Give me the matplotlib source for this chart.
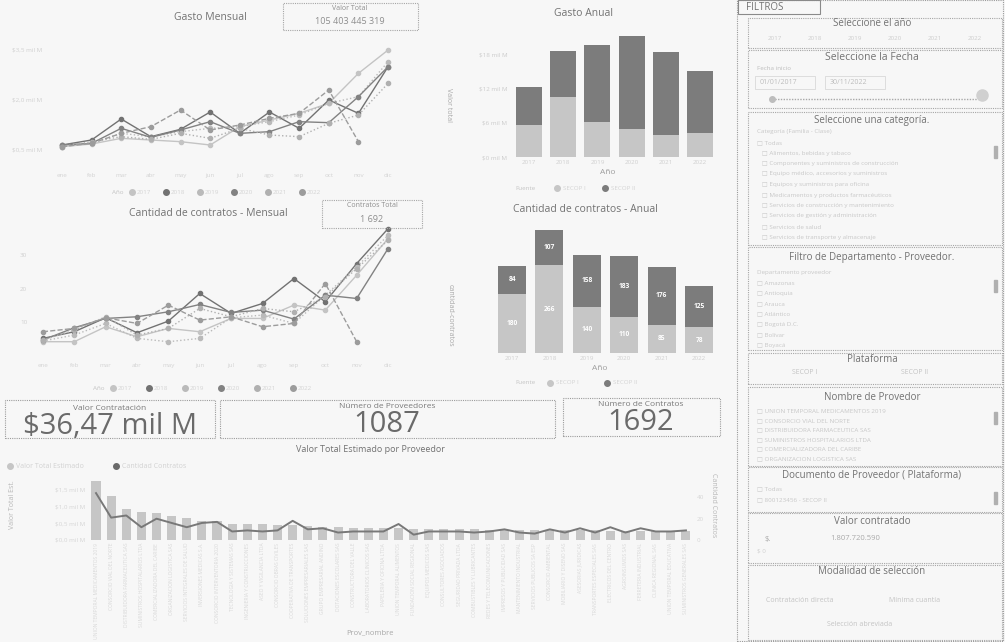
import matplotlib.pyplot as plt
import matplotlib.patches as patches
from matplotlib.lines import Line2D

W, H = 1005, 642
plt.rcParams['font.family'] = ['Open Sans', 'DejaVu Sans']

bg = '#f7f7f7'
txt = '#727272'
faint = '#c4c4c4'

# ---- data ----
years = ['2017', '2018', '2019', '2020', '2021', '2022']
months = list(range(1, 13))
month_labels = ['ene', 'feb', 'mar', 'abr', 'may', 'jun', 'jul', 'ago', 'sep', 'oct', 'nov', 'dic']

# Gasto mensual (mil M)
gasto_2017 = [0.60, 0.68, 0.85, 0.80, 0.75, 0.65, 1.20, 1.40, 1.60, 1.90, 2.80, 3.50]
gasto_2018 = [0.65, 0.80, 1.43, 0.90, 1.12, 1.64, 1.00, 1.64, 1.15, 2.00, 1.60, 3.00]
gasto_2019 = [0.65, 0.70, 1.00, 0.90, 1.05, 1.15, 1.20, 1.35, 1.55, 1.90, 2.10, 3.15]
gasto_2020 = [0.65, 0.70, 1.15, 0.88, 1.10, 1.35, 1.00, 1.05, 1.35, 1.32, 2.10, 3.00]
gasto_2021 = [0.60, 0.75, 0.90, 0.82, 1.00, 0.85, 1.15, 0.95, 0.90, 1.30, 1.55, 2.50]
gasto_2022 = [0.60, 0.70, 1.00, 1.20, 1.70, 1.10, 1.25, 1.45, 1.60, 2.30, 0.75, None]

# Cantidad de contratos mensual
contratos_2017 = [4.0, 4.0, 8.5, 5.5, 8.0, 7.0, 11.0, 11.0, 15.0, 13.5, 24.0, 35.0]
contratos_2018 = [5.0, 7.0, 11.2, 6.7, 10.2, 18.5, 12.5, 15.5, 23.0, 16.0, 27.5, 38.0]
contratos_2019 = [4.2, 6.0, 9.5, 5.0, 4.0, 5.0, 11.2, 12.0, 9.5, 18.0, 26.5, 36.0]
contratos_2020 = [4.5, 8.2, 11.0, 11.5, 13.0, 15.2, 12.8, 13.5, 10.8, 18.0, 17.0, 32.0]
contratos_2021 = [4.5, 7.5, 11.5, 6.0, 8.0, 14.0, 11.5, 14.0, 13.0, 17.5, 26.0, 34.5]
contratos_2022 = [7.0, 8.0, 11.2, 9.5, 15.0, 10.5, 11.5, 8.5, 9.5, 21.5, 4.0, None]

# Gasto anual por fuente (mil M)
fuentes = ['SECOP I', 'SECOP II']
gasto_anual_secop1 = [5.6, 10.6, 6.2, 5.0, 3.9, 4.2]
gasto_anual_secop2 = [6.7, 8.1, 13.5, 16.2, 14.6, 10.9]
gasto_ticks = [0, 6, 12, 18]

# Contratos anuales por fuente
contratos_anual_secop1 = [180, 266, 140, 110, 85, 78]
contratos_anual_secop2 = [84, 107, 158, 183, 176, 125]

# Valor total estimado por proveedor
proveedores = [
    'UNION TEMPORAL MEDICAMENTOS 2019', 'CONSORCIO VIAL DEL NORTE', 'DISTRIBUIDORA FARMACEUTICA SAS',
    'SUMINISTROS HOSPITALARIOS LTDA', 'COMERCIALIZADORA DEL CARIBE', 'ORGANIZACION LOGISTICA SAS',
    'SERVICIOS INTEGRALES DE SALUD', 'INVERSIONES MEDICAS S.A.', 'CONSORCIO INTERVENTORIA 2020',
    'TECNOLOGIA Y SISTEMAS SAS', 'INGENIERIA Y CONSTRUCCIONES', 'ASEO Y VIGILANCIA LTDA',
    'CONSORCIO OBRAS CIVILES', 'COOPERATIVA DE TRANSPORTES', 'SOLUCIONES EMPRESARIALES SAS',
    'GRUPO EMPRESARIAL ANDINO', 'DOTACIONES ESCOLARES SAS', 'CONSTRUCTORA DEL VALLE',
    'LABORATORIOS CLINICOS SAS', 'PAPELERIA Y OFICINA LTDA', 'UNION TEMPORAL ALIMENTOS',
    'FUNDACION SOCIAL REGIONAL', 'EQUIPOS MEDICOS SAS', 'CONSULTORES ASOCIADOS',
    'SEGURIDAD PRIVADA LTDA', 'COMBUSTIBLES Y LUBRICANTES', 'REDES Y TELECOMUNICACIONES',
    'IMPRESOS Y PUBLICIDAD SAS', 'MANTENIMIENTO INDUSTRIAL', 'SERVICIOS PUBLICOS SA ESP',
    'CONSORCIO AMBIENTAL', 'MOBILIARIO Y DISENO SAS', 'ASESORIAS JURIDICAS',
    'TRANSPORTES ESPECIALES SAS', 'ELECTRICOS DEL CENTRO', 'AGROINSUMOS SAS',
    'FERRETERIA INDUSTRIAL', 'CLINICA REGIONAL SAS', 'UNION TEMPORAL EDUCATIVA',
    'SUMINISTROS GENERALES SAS']
valor_estimado = [1.77, 1.32, 0.92, 0.85, 0.82, 0.72, 0.65, 0.57, 0.57, 0.47,
                  0.47, 0.47, 0.45, 0.45, 0.42, 0.40, 0.38, 0.37, 0.36, 0.35,
                  0.35, 0.34, 0.33, 0.33, 0.32, 0.32, 0.31, 0.31, 0.30, 0.30,
                  0.30, 0.29, 0.29, 0.29, 0.28, 0.28, 0.28, 0.27, 0.27, 0.27]
cantidad_contratos = [44, 21, 23, 12, 20, 16, 12, 16, 17, 8,
                      9, 8, 9, 18, 10, 11, 7, 8, 8, 8,
                      15, 5, 8, 8, 8, 7, 8, 10, 7, 6,
                      10, 7, 11, 7, 12, 7, 11, 8, 8, 9]

year_colors = ['#c4c4c4', '#727272', '#bababa', '#828282', '#b0b0b0', '#9c9c9c']
year_styles = ['-', '-', ':', '-', ':', '--']
light_bar = '#c6c6c6'
dark_bar = '#7c7c7c'

fig = plt.figure(figsize=(W / 100, H / 100), dpi=100, facecolor=bg)


def add_ax(x0, y0, x1, y1):
    ax = fig.add_axes([x0 / W, 1 - y1 / H, (x1 - x0) / W, (y1 - y0) / H])
    ax.set_facecolor('none')
    for s in ax.spines.values():
        s.set_visible(False)
    ax.tick_params(length=0, labelsize=4.5, colors=faint, pad=2)
    return ax


def label(x, y, s, size=7, color=txt, ha='center', va='center', **kw):
    fig.text(x / W, 1 - y / H, s, fontsize=size, color=color, ha=ha, va=va, **kw)


def box(x0, y0, x1, y1, color='#a6a6a6', ls=(0, (1, 1)), lw=0.8):
    fig.add_artist(patches.Rectangle((x0 / W, 1 - y1 / H), (x1 - x0) / W, (y1 - y0) / H,
                                     transform=fig.transFigure, fill=False,
                                     edgecolor=color, linestyle=ls, linewidth=lw))


def dot(x, y, color, size=4):
    fig.add_artist(Line2D([x / W], [1 - y / H], marker='o', markersize=size, color=color,
                          linestyle='none', transform=fig.transFigure))


def line_chart(rect, series, xlim, ylim, yticks, yticklabels):
    ax = add_ax(*rect)
    for vals, c, ls in zip(series, year_colors, year_styles):
        v = [float('nan') if a is None else a for a in vals]
        ax.plot(months, v, color=c, linestyle=ls, linewidth=1.0, marker='o', markersize=3.0)
    ax.set_xlim(xlim)
    ax.set_ylim(ylim)
    ax.set_xticks(months)
    ax.set_xticklabels(month_labels, color='#d4d4d4')
    ax.set_yticks(yticks)
    ax.set_yticklabels(yticklabels, color='#d0d0d0')
    return ax


def year_legend(x0, y, step):
    label(x0 - 14, y, 'Año', size=4.5, color=faint)
    for i, yr in enumerate(years):
        dot(x0 + i * step, y, year_colors[i], 4)
        label(x0 + i * step + 5, y, yr, size=4.5, color='#d4d4d4', ha='left')


# ---- Gasto Mensual ----
label(210, 17, 'Gasto Mensual', size=7.5)
box(283, 3, 418, 30)
label(350, 9, 'Valor Total', size=5, color='#8e8e8e')
label(350, 21, '105 403 445 319', size=6.5, color='#8e8e8e')
line_chart((45, 40, 405, 170),
           [gasto_2017, gasto_2018, gasto_2019, gasto_2020, gasto_2021, gasto_2022],
           (0.43, 12.57), (-0.1, 3.8), [0.5, 2.0, 3.5],
           ['$0,5 mil M', '$2,0 mil M', '$3,5 mil M'])
label(448, 105, 'Valor total', size=5, color='#a8a8a8', rotation=270)
year_legend(132, 192, 34)

# ---- Cantidad de contratos Mensual ----
label(208, 214, 'Cantidad de contratos - Mensual', size=7.5)
box(322, 200, 422, 228)
label(372, 206, 'Contratos Total', size=5, color='#8e8e8e')
label(372, 219, '1 692', size=6.5, color='#8e8e8e')
line_chart((30, 222, 405, 360),
           [contratos_2017, contratos_2018, contratos_2019, contratos_2020, contratos_2021,
            contratos_2022],
           (0.59, 12.54), (-1.5, 40), [10, 20, 30], ['10', '20', '30'])
label(450, 315, 'cantidad-contratos', size=5, color='#a8a8a8', rotation=270)
year_legend(113, 388, 36)

# ---- Gasto Anual ----
label(583, 13, 'Gasto Anual', size=7.5)
ax = add_ax(510, 30, 718, 157)
xs = list(range(len(years)))
ax.bar(xs, gasto_anual_secop1, width=0.76, color=light_bar)
ax.bar(xs, gasto_anual_secop2, width=0.76, bottom=gasto_anual_secop1, color=dark_bar)
ax.set_xlim(-0.56, 5.53)
ax.set_ylim(0, 22.3)
ax.set_xticks(xs)
ax.set_xticklabels(years, color='#d0d0d0')
ax.set_yticks(gasto_ticks)
ax.set_yticklabels(['$%d mil M' % t for t in gasto_ticks], color='#cccccc')
label(608, 173, 'Año', size=6, color='#9e9e9e')
label(525, 188, 'Fuente', size=4.5, color=faint)
dot(557, 188, light_bar, 4)
label(563, 188, fuentes[0], size=4.5, color='#d4d4d4', ha='left')
dot(605, 188, dark_bar, 4)
label(611, 188, fuentes[1], size=4.5, color='#d4d4d4', ha='left')

# ---- Cantidad de contratos Anual ----
label(585, 210, 'Cantidad de contratos - Anual', size=7.5)
ax = add_ax(490, 228, 720, 353)
ax.bar(xs, contratos_anual_secop1, width=0.75, color=light_bar)
ax.bar(xs, contratos_anual_secop2, width=0.75, bottom=contratos_anual_secop1, color=dark_bar)
for x, a, b in zip(xs, contratos_anual_secop1, contratos_anual_secop2):
    ax.text(x, a / 2, str(a), ha='center', va='center', fontsize=4.8, color='white', weight='bold')
    ax.text(x, a + b / 2, str(b), ha='center', va='center', fontsize=4.8, color='white', weight='bold')
ax.set_xlim(-0.59, 5.56)
ax.set_ylim(0, 379)
ax.set_xticks(xs)
ax.set_xticklabels(years, color='#d0d0d0')
ax.set_yticks([])
label(600, 369, 'Año', size=6, color='#9e9e9e')
label(525, 383, 'Fuente', size=4.5, color=faint)
dot(550, 383, light_bar, 4)
label(556, 383, fuentes[0], size=4.5, color='#d4d4d4', ha='left')
dot(607, 383, dark_bar, 4)
label(613, 383, fuentes[1], size=4.5, color='#d4d4d4', ha='left')

# ---- KPI cards ----
box(5, 400, 215, 438, color='#9c9c9c')
label(110, 408, 'Valor Contratación', size=6, color='#7a7a7a')
label(110, 426, '$36,47 mil M', size=21, color='#6a6a6a')
box(220, 400, 555, 438, color='#9c9c9c')
label(387, 407, 'Número de Proveedores', size=6, color='#7a7a7a')
label(387, 425, '1087', size=21, color='#6a6a6a')
box(563, 398, 720, 436, color='#9c9c9c')
label(641, 405, 'Número de Contratos', size=6, color='#7a7a7a')
label(641, 423, '1692', size=21, color='#6a6a6a')

# ---- Valor Total Estimado por Proveedor ----
label(370, 449, 'Valor Total Estimado por Proveedor', size=6.5)
dot(10, 466, light_bar, 4)
label(16, 466, 'Valor Total Estimado', size=5, color='#d2d2d2', ha='left')
dot(116, 466, '#6a6a6a', 4)
label(122, 466, 'Cantidad Contratos', size=5, color='#d2d2d2', ha='left')
ax = add_ax(88, 475, 692, 540)
px = list(range(len(proveedores)))
ax.bar(px, valor_estimado, width=0.6, color=light_bar)
ax.set_xlim(-0.53, 39.4)
ax.set_ylim(0, 1.95)
ax.set_xticks(px)
ax.set_xticklabels(proveedores, rotation=90, fontsize=3.6, color='#d8d8d8')
ax.set_yticks([0, 0.5, 1.0, 1.5])
ax.set_yticklabels(['$0,0 mil M', '$0,5 mil M', '$1,0 mil M', '$1,5 mil M'], color='#d6d6d6')
ax2 = ax.twinx()
for s in ax2.spines.values():
    s.set_visible(False)
ax2.plot(px, cantidad_contratos, color='#787878', linewidth=1.4)
ax2.set_ylim(0, 61)
ax2.set_yticks([0, 20, 40])
ax2.tick_params(length=0, labelsize=4.5, colors='#d6d6d6')
label(12, 505, 'Valor Total Est.', size=5, color='#b8b8b8', rotation=90)
label(713, 505, 'Cantidad Contratos', size=5, color='#b8b8b8', rotation=270)
label(370, 633, 'Prov_nombre', size=5.5, color='#a8a8a8')

# ---- Panel de filtros ----
box(737, 0, 1003, 641, color='#9a9a9a')
box(738, 0, 820, 14, color='#8a8a8a', ls='-', lw=0.8)
label(746, 7, 'FILTROS', size=7, color='#727272', ha='left')

box(748, 18, 1002, 48)
label(872, 24, 'Seleccione el año', size=7)
for i, yr in enumerate(years):
    label(775 + i * 40, 39, yr, size=4.5, color='#cdcdcd')

box(748, 50, 1002, 108)
label(872, 58, 'Seleccione la Fecha', size=7.5)
label(757, 69, 'Fecha inicio', size=4.5, color='#bdbdbd', ha='left')
label(760, 82, '01/01/2017', size=5, color='#bdbdbd', ha='left')
label(830, 82, '30/11/2022', size=5, color='#bdbdbd', ha='left')
box(755, 76, 815, 89, color='#d8d8d8', ls='-', lw=0.6)
box(825, 76, 885, 89, color='#d8d8d8', ls='-', lw=0.6)
fig.add_artist(Line2D([772 / W, 978 / W], [1 - 99 / H, 1 - 99 / H], color='#a8a8a8',
                      linestyle=(0, (1, 1)), linewidth=1, transform=fig.transFigure))
dot(772, 99, '#bdbdbd', 4)
dot(982, 95, '#d0d0d0', 8)

box(748, 112, 1002, 245)
label(872, 121, 'Seleccione una categoría.', size=7)
categorias = ['Categoría (Familia - Clase)', '□ Todas', '   □ Alimentos, bebidas y tabaco',
              '   □ Componentes y suministros de construcción',
              '   □ Equipo médico, accesorios y suministros',
              '   □ Equipos y suministros para oficina', '   □ Medicamentos y productos farmacéuticos',
              '   □ Servicios de construcción y mantenimiento',
              '   □ Servicios de gestión y administración',
              '   □ Servicios de salud', '   □ Servicios de transporte y almacenaje']
for i, c in enumerate(categorias):
    label(757, 132 + i * 10.5, c, size=4.5, color='#c8c8c8', ha='left')
fig.add_artist(patches.Rectangle((994 / W, 1 - 158 / H), 3 / W, 12 / H, color='#b0b0b0',
                                 transform=fig.transFigure))

box(748, 247, 1002, 350)
label(872, 258, 'Filtro de Departamento - Proveedor.', size=7)
departamentos = ['Departamento proveedor', '□ Amazonas', '□ Antioquia', '□ Arauca', '□ Atlántico',
                 '□ Bogotá D.C.', '□ Bolívar', '□ Boyacá']
for i, d in enumerate(departamentos):
    label(757, 272 + i * 10.5, d, size=4.5, color='#c8c8c8', ha='left')
fig.add_artist(patches.Rectangle((994 / W, 1 - 292 / H), 3 / W, 12 / H, color='#b0b0b0',
                                 transform=fig.transFigure))

box(748, 353, 1002, 384)
label(872, 359, 'Plataforma', size=7)
label(805, 373, fuentes[0], size=5, color='#c4c4c4')
label(915, 373, fuentes[1], size=5, color='#c4c4c4')

box(748, 387, 1002, 466)
label(872, 397, 'Nombre de Provedor', size=7)
for i, p in enumerate(proveedores[:6]):
    label(757, 411 + i * 9.5, '□ ' + p, size=4.5, color='#c8c8c8', ha='left')
fig.add_artist(patches.Rectangle((994 / W, 1 - 424 / H), 3 / W, 12 / H, color='#b0b0b0',
                                 transform=fig.transFigure))

box(748, 467, 1002, 512)
label(872, 475, 'Documento de Proveedor ( Plataforma)', size=7)
label(757, 489, '□ Todas', size=4.5, color='#c8c8c8', ha='left')
label(757, 500, '□ 800123456 - SECOP II', size=4.5, color='#c8c8c8', ha='left')
fig.add_artist(patches.Rectangle((994 / W, 1 - 504 / H), 3 / W, 12 / H, color='#b0b0b0',
                                 transform=fig.transFigure))

box(748, 513, 1002, 563)
label(872, 521, 'Valor contratado', size=7)
label(765, 539, '$.', size=5.5, color='#aaaaaa', ha='left')
label(830, 539, '1.807.720.590', size=5.5, color='#aaaaaa', ha='left')
label(757, 551, '$ 0', size=4.5, color='#d0d0d0', ha='left')

box(748, 565, 1002, 640)
label(872, 571, 'Modalidad de selección', size=7)
label(800, 600, 'Contratación directa', size=5, color='#c4c4c4')
label(915, 600, 'Mínima cuantía', size=5, color='#c4c4c4')
label(860, 624, 'Selección abreviada', size=5, color='#c4c4c4')

fig.savefig('out.png', dpi=100, facecolor=bg)
